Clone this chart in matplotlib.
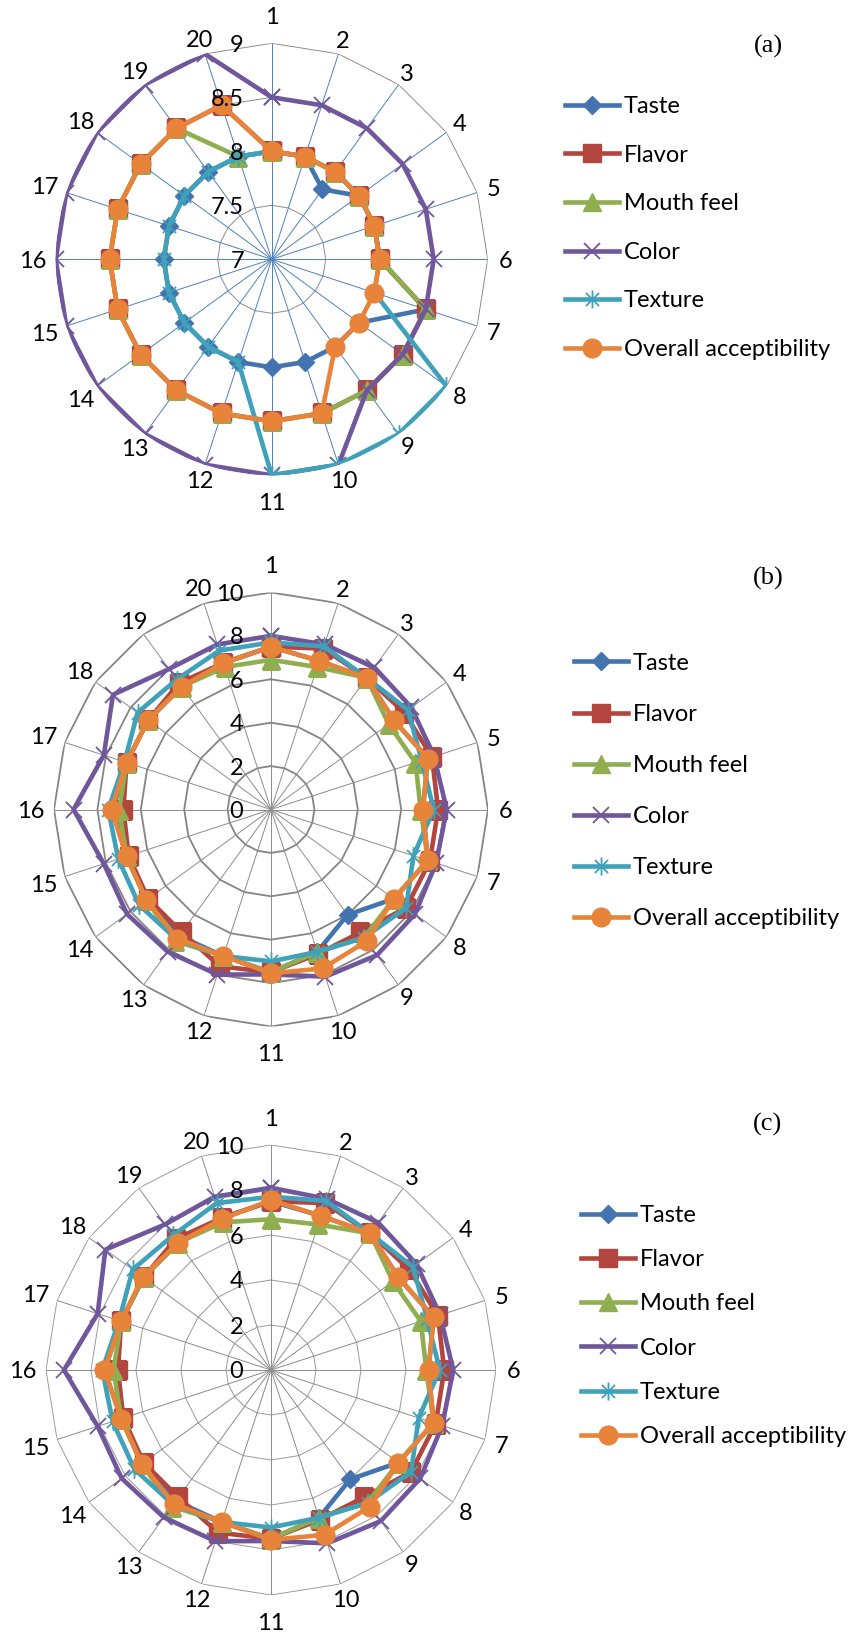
import matplotlib.pyplot as plt
import numpy as np
from matplotlib.path import Path

W, H = 849, 1635
plt.rcParams['font.family'] = ['Lato', 'DejaVu Sans']

categories = [str(i) for i in range(1, 21)]
names = ["Taste", "Flavor", "Mouth feel", "Color", "Texture", "Overall acceptibility"]

# panel (a) scores
taste_a = [8, 8, 7.8, 8, 8, 8, 8.5, 8, 8, 8, 8, 8, 8, 8, 8, 8, 8, 8, 8, 8]
flavor_a = [8, 8, 8, 8, 8, 8, 8.5, 8.5, 8.5, 8.5, 8.5, 8.5, 8.5, 8.5, 8.5, 8.5, 8.5, 8.5, 8.5, 8.5]
mouth_a = [8, 8, 8, 8, 8, 8, 8.5, 8.5, 8.5, 8.5, 8.5, 8.5, 8.5, 8.5, 8.5, 8.5, 8.5, 8.5, 8.5, 8]
color_a = [8.5, 8.5, 8.5, 8.5, 8.5, 8.5, 8.5, 8.5, 8.5, 9, 9, 9, 9, 9, 9, 9, 9, 9, 9, 9]
texture_a = [8, 8, 8, 8, 8, 8, 8, 9, 9, 9, 9, 8, 8, 8, 8, 8, 8, 8, 8, 8]
overall_a = [8, 8, 8, 8, 8, 8, 8, 8, 8, 8.5, 8.5, 8.5, 8.5, 8.5, 8.5, 8.5, 8.5, 8.5, 8.5, 8.5]

# panel (b) scores
taste_b = [7.5, 7.2, 7.5, 7.0, 7.6, 7.0, 7.6, 7.0, 6.0, 6.9, 7.5, 7.1, 7.2, 7.1, 7.0, 7.3, 7.0, 7.0, 7.0, 7.1]
flavor_b = [7.5, 7.8, 7.5, 7.6, 7.8, 7.7, 7.7, 7.7, 7.0, 7.0, 7.5, 7.6, 7.0, 7.0, 6.9, 6.8, 7.0, 7.0, 7.2, 7.1]
mouth_b = [6.9, 6.9, 7.5, 6.7, 7.0, 6.9, 7.6, 7.0, 7.3, 6.9, 7.5, 7.1, 7.5, 7.1, 7.0, 7.0, 7.0, 7.0, 7.0, 6.9]
color_b = [8.0, 8.0, 8.1, 8.0, 7.9, 8.1, 8.0, 8.2, 8.3, 8.1, 7.6, 8.0, 8.1, 8.2, 8.1, 9.1, 8.1, 9.0, 8.0, 8.0]
texture_b = [7.7, 7.9, 7.5, 7.8, 7.3, 7.5, 6.9, 7.7, 7.3, 6.9, 7.0, 7.1, 7.4, 7.5, 7.4, 7.5, 7.1, 7.6, 7.4, 7.7]
overall_b = [7.5, 7.2, 7.5, 7.0, 7.6, 7.0, 7.6, 7.0, 7.5, 7.7, 7.55, 7.1, 7.35, 7.1, 7.0, 7.35, 7.0, 7.0, 7.0, 7.1]

# panel (c) scores
taste_c = [7.5, 7.2, 7.5, 7.0, 7.6, 7.0, 7.6, 7.0, 6.0, 6.9, 7.5, 7.1, 7.2, 7.1, 7.0, 7.4, 7.0, 7.0, 7.0, 7.1]
flavor_c = [7.5, 7.8, 7.5, 7.6, 7.8, 7.7, 7.7, 7.7, 7.0, 7.0, 7.5, 7.6, 7.0, 7.0, 6.9, 6.8, 7.0, 7.0, 7.2, 7.1]
mouth_c = [6.7, 6.8, 7.5, 6.7, 7.0, 6.9, 7.6, 7.0, 7.3, 6.9, 7.5, 7.1, 7.5, 7.1, 7.0, 7.0, 7.0, 7.0, 7.0, 6.9]
color_c = [8.1, 8.0, 8.1, 8.0, 7.9, 8.1, 8.0, 8.2, 8.3, 8.1, 7.6, 8.0, 8.1, 8.2, 8.1, 9.2, 8.1, 9.1, 8.0, 8.1]
texture_c = [7.7, 7.9, 7.5, 7.8, 7.3, 7.5, 6.9, 7.7, 7.3, 6.9, 7.0, 7.1, 7.4, 7.5, 7.4, 7.5, 7.1, 7.6, 7.4, 7.8]
overall_c = [7.55, 7.2, 7.5, 7.0, 7.6, 7.0, 7.6, 7.0, 7.5, 7.7, 7.55, 7.1, 7.35, 7.1, 7.0, 7.4, 7.0, 7.05, 7.0, 7.05]

colors = ["#4374B0", "#B3453F", "#8FAE4F", "#70569A", "#3FA1BA", "#E8843A"]
asterisk = Path([(-0.8, -0.8), (0.8, 0.8), (-0.8, 0.8), (0.8, -0.8), (0, -1.1), (0, 1.1)],
                [Path.MOVETO, Path.LINETO] * 3)
markers = ["D", "s", "^", "x", asterisk, "o"]
msizes = [9.5, 12.5, 12.5, 12, 13, 13.5]

fig = plt.figure(figsize=(W / 100, H / 100), dpi=100)
FS = 17
FSPX = FS * 100 / 72


def radar(cx, cy, R, rmin, rmax, rticks, data, spoke_c, ring_c, ring_lw, leg_x, leg_y, leg_sp, tag_y, tag):
    ax = fig.add_axes([(cx - R) / W, 1 - (cy + R) / H, 2 * R / W, 2 * R / H], projection='polar')
    ax.set_aspect('auto')
    ax.set_theta_zero_location('N')
    ax.set_theta_direction(-1)
    ax.set_ylim(rmin, rmax)
    ax.grid(False)
    ax.spines['polar'].set_visible(False)
    ax.patch.set_visible(False)
    ax.set_xticks([])
    ax.set_yticks([])
    n = len(categories)
    theta = np.deg2rad(np.arange(n) * 360 / n)
    tc = np.append(theta, theta[0])
    for t in rticks[1:]:
        ax.plot(tc, [t] * (n + 1), color=ring_c, lw=ring_lw, zorder=1)
    for th in theta:
        ax.plot([th, th], [rmin, rmax], color=spoke_c, lw=0.7, zorder=1)
    for t in rticks:
        ax.annotate('%g' % t, xy=(0, t), xytext=(-20, 0), textcoords='offset points',
                    ha='right', va='center_baseline', fontsize=FS, zorder=5)
    # category labels sit just outside the outer ring
    for th, lab in zip(theta, categories):
        s, c = np.sin(th), np.cos(th)
        d = 12 + 5.5 * len(lab) * abs(s) ** 1.5 + 16 * max(c, 0) ** 40 + 14 * max(-c, 0) ** 40
        ax.annotate(lab, xy=(th, rmax), xytext=(d * s * 0.72, d * c * 0.72),
                    textcoords='offset points', ha='center', va='center_baseline', fontsize=FS)
    handles = []
    for name, vals, col, m, ms in zip(names, data, colors, markers, msizes):
        v = np.append(vals, vals[0])
        ln, = ax.plot(tc, v, color=col, lw=3.3, marker=m, ms=ms, mec=col, mfc=col,
                      mew=1.3 if (m == "x" or m is asterisk) else 1, label=name, zorder=3)
        handles.append(ln)
    fig.legend(handles, names, loc='center left', bbox_to_anchor=(leg_x / W, 1 - leg_y / H),
               frameon=False, fontsize=FS, handlelength=2.3, handletextpad=0.2,
               labelspacing=(leg_sp - 0.957 * FSPX) / FSPX, borderpad=0, borderaxespad=0)
    fig.text(768 / W, 1 - tag_y / H, tag, ha='center', va='center', fontsize=19,
             family='Liberation Serif')
    return ax


radar(271.7, 259.3, 216, 7, 9, [7, 7.5, 8, 8.5, 9],
      [taste_a, flavor_a, mouth_a, color_a, texture_a, overall_a],
      "#4F81BD", "#8C8C8C", 0.7, 565, 228, 50.2, 46, "(a)")
radar(271, 809.5, 217, 0, 10, [0, 2, 4, 6, 8, 10],
      [taste_b, flavor_b, mouth_b, color_b, texture_b, overall_b],
      "#8C8C8C", "#858585", 1.3, 574, 791, 52.7, 578, "(b)")
radar(271, 1370, 225, 0, 10, [0, 2, 4, 6, 8, 10],
      [taste_c, flavor_c, mouth_c, color_c, texture_c, overall_c],
      "#8C8C8C", "#9A9A9A", 0.7, 581, 1326, 45.8, 1124, "(c)")

fig.savefig("out.png", dpi=100)
